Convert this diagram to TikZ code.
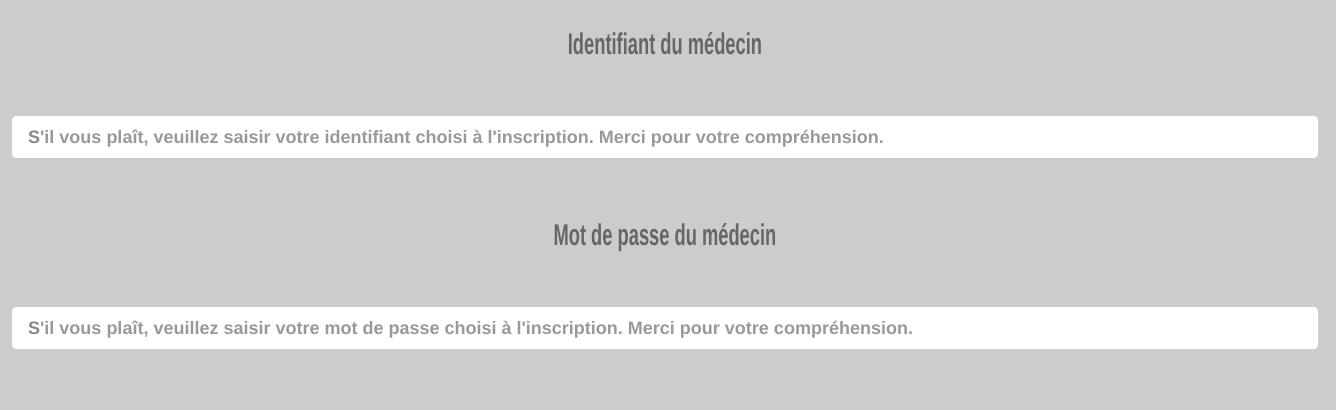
\documentclass[tikz,border=0pt]{standalone}
\usepackage{fontspec}
\setmainfont{Liberation Sans}[Ligatures=TeXOff]
\usepackage{graphicx}
\usetikzlibrary{positioning}
\definecolor{fond}{HTML}{CCCCCC}
\definecolor{titregris}{HTML}{666666}
\definecolor{textegris}{HTML}{999999}
\definecolor{initgris}{HTML}{888888}
\tikzset{
	titre/.style={inner sep=0pt, text=titregris, font=\bfseries\fontsize{30}{32}\selectfont},
	champ/.style={fill=white, draw=none, rounded corners=4pt},
	consigne/.style={anchor=west, inner sep=0pt, text=textegris, font=\bfseries\fontsize{18}{21}\selectfont}
}
\frenchspacing

\begin{document}
\begin{tikzpicture}[x=1pt, y=1pt]
			%%%%% START %%%%%
			
			\fill[fond] (0, 0) rectangle (1336, 410);
			\useasboundingbox (0, 0) rectangle (1336, 410);
			
			\node[titre] (titreId) at (665, 366) {\scalebox{0.61}[1]{Identifiant du médecin}};
			\draw[champ] (12, 294) rectangle (1318, 252);
			\node[consigne] (texteId) at (28, 271) {\textcolor{initgris}{S}'il vous plaît, veuillez saisir votre identifiant choisi à l'inscription. Merci pour votre compréhension.};
			
			\node[titre] (titreMdp) at (665, 172) {\scalebox{0.61}[1]{Mot de passe du médecin}};
			\draw[champ] (12, 103) rectangle (1318, 61);
			\node[consigne] (texteMdp) at (28, 80) {\textcolor{initgris}{S}'il vous plaît, veuillez saisir votre mot de passe choisi à l'inscription. Merci pour votre compréhension.};
			
			%%%%% END %%%%%
		\end{tikzpicture}
\end{document}
